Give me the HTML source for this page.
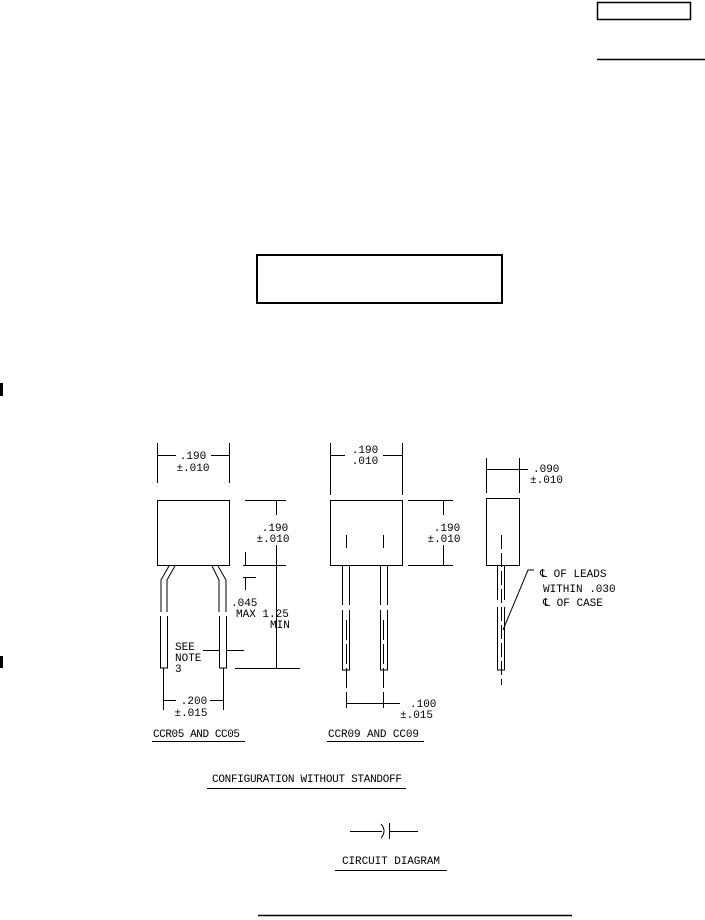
<!DOCTYPE html>
<html><head><meta charset="utf-8"><style>
html,body{margin:0;padding:0;background:#fff;width:705px;height:920px;overflow:hidden}
svg{display:block}
text{font-family:"Liberation Mono","DejaVu Sans Mono",monospace;font-size:11px;fill:#000}
</style></head><body>
<svg width="705" height="920" viewBox="0 0 705 920" xmlns="http://www.w3.org/2000/svg" stroke="#000" fill="none" stroke-width="1">
<rect x="597.5" y="2.5" width="93" height="17" stroke-width="1.5"/>
<line x1="597" y1="59.5" x2="705" y2="59.5" stroke-width="1.5"/>
<rect x="257" y="255" width="245" height="48" stroke-width="2"/>
<line x1="1.5" y1="383" x2="1.5" y2="396" stroke-width="3"/>
<line x1="1.5" y1="656" x2="1.5" y2="668" stroke-width="3"/>

<!-- Left view -->
<line x1="157.5" y1="443" x2="157.5" y2="483"/><line x1="229.5" y1="443" x2="229.5" y2="483"/>
<line x1="158" y1="455.5" x2="176" y2="455.5"/><line x1="211" y1="455.5" x2="229" y2="455.5"/>
<text x="193" y="459" text-anchor="middle" stroke="none">.190</text>
<text x="193" y="471" text-anchor="middle" stroke="none">±.010</text>
<rect x="157.5" y="500.5" width="72" height="65"/>
<line x1="245" y1="500.5" x2="286" y2="500.5"/><line x1="243" y1="565.5" x2="286" y2="565.5"/>
<line x1="276.5" y1="501" x2="276.5" y2="515"/><line x1="276.5" y1="545" x2="276.5" y2="668"/>
<text x="275" y="531" text-anchor="middle" stroke="none">.190</text>
<text x="273" y="542" text-anchor="middle" stroke="none">±.010</text>
<line x1="245.5" y1="552" x2="245.5" y2="565"/>
<line x1="243" y1="577.5" x2="256" y2="577.5"/><line x1="245.5" y1="577" x2="245.5" y2="590"/>
<text x="231" y="606" stroke="none">.045</text>
<text x="236" y="617" stroke="none">MAX 1.25</text>
<text x="270" y="628" stroke="none">MIN</text>
<line x1="235" y1="668.5" x2="300" y2="668.5"/>
<path d="M169 566 L161 580 L161 612 M175 566 L167 580 L167 612"/>
<path d="M212 566 L219 580 L219 612 M218 566 L226 580 L226 612"/>
<path d="M160.5 616 V668 H167.5 V616 M219.5 616 V668 H226.5 V616"/>
<text x="175" y="650" stroke="none">SEE</text>
<text x="175" y="661" stroke="none">NOTE</text>
<text x="175" y="672" stroke="none">3</text>
<line x1="203" y1="650.5" x2="219" y2="650.5"/><line x1="227" y1="650.5" x2="244" y2="650.5"/>
<line x1="163.5" y1="668" x2="163.5" y2="710"/><line x1="223.5" y1="668" x2="223.5" y2="710"/>
<line x1="164" y1="700.5" x2="176" y2="700.5"/><line x1="210" y1="700.5" x2="223" y2="700.5"/>
<text x="194" y="704" text-anchor="middle" stroke="none">.200</text>
<text x="191" y="716" text-anchor="middle" stroke="none">±.015</text>
<text x="153" y="737" stroke="none" textLength="87">CCR05 AND CC05</text>
<line x1="152" y1="741.5" x2="245" y2="741.5"/>

<!-- Middle view -->
<line x1="330.5" y1="443" x2="330.5" y2="495"/><line x1="402.5" y1="443" x2="402.5" y2="495"/>
<line x1="331" y1="455.5" x2="345" y2="455.5"/><line x1="383" y1="455.5" x2="402" y2="455.5"/>
<text x="365" y="453" text-anchor="middle" stroke="none">.190</text>
<text x="365" y="464" text-anchor="middle" stroke="none">.010</text>
<rect x="330.5" y="500.5" width="72" height="65"/>
<line x1="408" y1="500.5" x2="453" y2="500.5"/><line x1="408" y1="565.5" x2="453" y2="565.5"/>
<line x1="443.5" y1="501" x2="443.5" y2="515"/><line x1="443.5" y1="545" x2="443.5" y2="565"/>
<text x="447" y="531" text-anchor="middle" stroke="none">.190</text>
<text x="444" y="542" text-anchor="middle" stroke="none">±.010</text>
<line x1="346.5" y1="535" x2="346.5" y2="548"/><line x1="383.5" y1="535" x2="383.5" y2="548"/>
<path d="M342.5 566 V605 M349.5 566 V605 M380.5 566 V605 M387.5 566 V605"/>
<path d="M342.5 610 V670 H349.5 V610 M380.5 610 V670 H387.5 V610"/>
<line x1="346.5" y1="620" x2="346.5" y2="708" stroke-dasharray="20 4"/><line x1="383.5" y1="620" x2="383.5" y2="708" stroke-dasharray="20 4"/>
<line x1="347" y1="703.5" x2="400" y2="703.5"/>
<text x="410" y="707" stroke="none">.100</text>
<text x="400" y="718" stroke="none">±.015</text>
<text x="328" y="737" stroke="none" textLength="91">CCR09 AND CC09</text>
<line x1="327" y1="741.5" x2="424" y2="741.5"/>

<!-- Right view -->
<line x1="486.5" y1="458" x2="486.5" y2="493"/><line x1="519.5" y1="458" x2="519.5" y2="493"/>
<line x1="487" y1="469.5" x2="528" y2="469.5"/>
<text x="533" y="472" stroke="none">.090</text>
<text x="530" y="483" stroke="none">±.010</text>
<rect x="486.5" y="498.5" width="33" height="67"/>
<line x1="501.5" y1="535" x2="501.5" y2="685" stroke-dasharray="14 4"/>
<path d="M497.5 566 V600 M504.5 566 V600 M497.5 607 V670 H504.5 V607"/>
<path d="M534 570 H528 L503 630"/>
<text x="540" y="577" stroke="none">℄ OF LEADS</text>
<text x="543" y="592" stroke="none">WITHIN .030</text>
<text x="543" y="606" stroke="none">℄ OF CASE</text>

<!-- Footer labels -->
<text x="212" y="782" stroke="none" textLength="190">CONFIGURATION WITHOUT STANDOFF</text>
<line x1="207" y1="788.5" x2="406" y2="788.5"/>
<line x1="350" y1="831.5" x2="382" y2="831.5"/>
<path d="M381 824 Q387 831 381 838"/>
<line x1="389.5" y1="823" x2="389.5" y2="839"/>
<line x1="389" y1="831.5" x2="418" y2="831.5"/>
<text x="342" y="864" stroke="none" textLength="98">CIRCUIT DIAGRAM</text>
<line x1="335" y1="870.5" x2="447" y2="870.5"/>
<line x1="258" y1="915.5" x2="572" y2="915.5" stroke-width="1.5"/>
</svg>
</body></html>
